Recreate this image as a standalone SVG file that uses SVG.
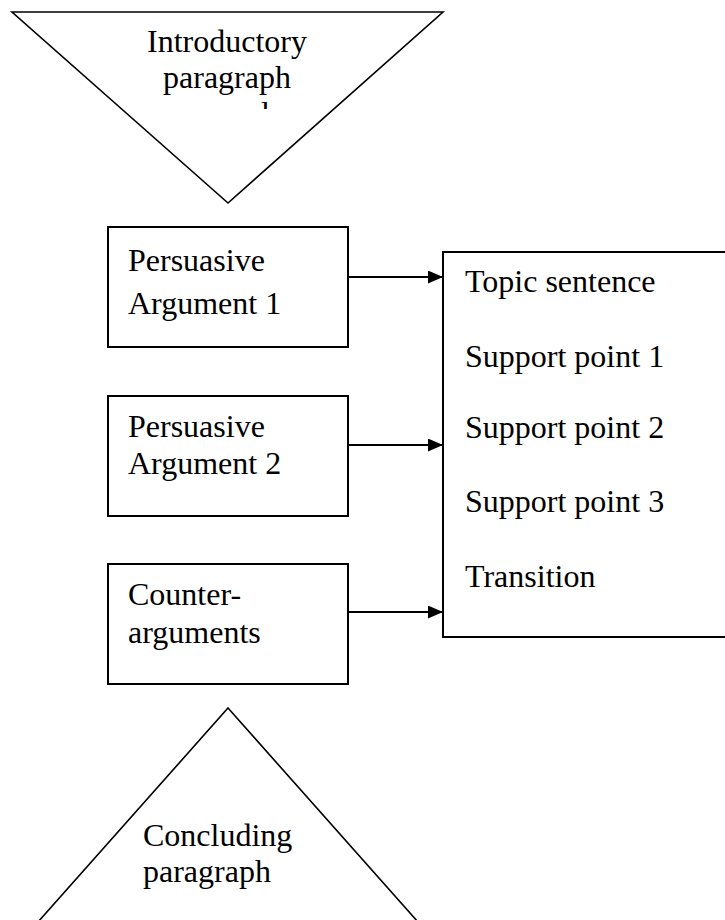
<svg xmlns="http://www.w3.org/2000/svg" width="725" height="920" viewBox="0 0 725 920">
  <style>
    .shape { fill: #ffffff; stroke: #000000; stroke-width: 2; }
    .tri { fill: #ffffff; stroke: #000000; stroke-width: 1.6; }
    .label { font-family: "Liberation Serif", "Times New Roman", serif; font-size: 32px; fill: #000000; }
    .mid { text-anchor: middle; }
    .conn { stroke: #000000; stroke-width: 2; fill: none; }
  </style>
  <defs>
    <marker id="arrowhead" markerWidth="15" markerHeight="13" refX="15" refY="6.5" orient="auto" markerUnits="userSpaceOnUse">
      <path d="M0,0 L15,6.5 L0,13 Z" fill="#000000"/>
    </marker>
    <!-- text frame of the introductory triangle cuts off its third line -->
    <clipPath id="introClip">
      <rect x="0" y="0" width="725" height="109"/>
    </clipPath>
  </defs>
  <rect x="0" y="0" width="725" height="920" fill="#ffffff"/>

  <g id="intro">
    <polygon class="tri" points="12,12 443,12 228,203"/>
    <text class="label mid" x="227" y="52">Introductory</text>
    <text class="label mid" x="227" y="88">paragraph</text>
    <g clip-path="url(#introClip)">
      <text class="label" x="261" y="124">l</text>
    </g>
  </g>

  <g id="arg1">
    <rect class="shape" x="108" y="227" width="240" height="120"/>
    <text class="label" x="128" y="271">Persuasive</text>
    <text class="label" x="128" y="314">Argument 1</text>
  </g>

  <g id="arg2">
    <rect class="shape" x="108" y="396" width="240" height="120"/>
    <text class="label" x="128" y="437">Persuasive</text>
    <text class="label" x="128" y="474">Argument 2</text>
  </g>

  <g id="counter">
    <rect class="shape" x="108" y="564" width="240" height="120"/>
    <text class="label" x="128" y="605">Counter-</text>
    <text class="label" x="128" y="643">arguments</text>
  </g>

  <g id="structure">
    <rect class="shape" x="443" y="252" width="320" height="385"/>
    <text class="label" x="465" y="292">Topic sentence</text>
    <text class="label" x="465" y="367">Support point 1</text>
    <text class="label" x="465" y="438">Support point 2</text>
    <text class="label" x="465" y="512">Support point 3</text>
    <text class="label" x="465" y="587">Transition</text>
  </g>

  <g id="conclusion">
    <polygon class="tri" points="228,708 434,940 22,940"/>
    <text class="label" x="143" y="846">Concluding</text>
    <text class="label" x="143" y="882">paragraph</text>
  </g>

  <g id="connectors">
    <line class="conn" x1="348" y1="277" x2="443" y2="277" marker-end="url(#arrowhead)"/>
    <line class="conn" x1="348" y1="445" x2="443" y2="445" marker-end="url(#arrowhead)"/>
    <line class="conn" x1="348" y1="612" x2="443" y2="612" marker-end="url(#arrowhead)"/>
  </g>
</svg>
